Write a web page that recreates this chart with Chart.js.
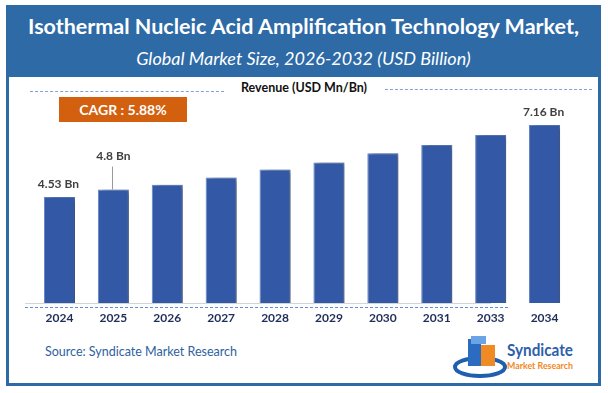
<!DOCTYPE html>
<html>
<head>
<meta charset="utf-8">
<script src="https://cdn.jsdelivr.net/npm/chart.js@4"></script>
<style>
  body { margin: 0; width: 608px; height: 393px; background: #fff; font-family: Lato, sans-serif; overflow: hidden; }
  #page { position: relative; width: 608px; height: 393px; }
  #frame { position: absolute; left: 6px; top: 5px; width: 595px; height: 381px; box-sizing: border-box; border: 3px solid #2e6aa8; background: #fff; }
  #header { position: absolute; left: 6px; top: 5px; width: 595px; height: 72px; background: #2d6aa6; color: #fff; text-align: center; }
  #title { position: absolute; left: 0; right: 0; top: 8px; font-weight: bold; font-size: 21.5px; line-height: 26px; white-space: nowrap; }
  #subtitle { position: absolute; left: 0; right: 0; top: 42px; font-style: italic; font-size: 18px; line-height: 22px; }
  #revenue { position: absolute; left: 230px; width: 148px; top: 80px; text-align: center; font-weight: bold; font-size: 12.5px; color: #111; }
  .dash { position: absolute; height: 0; border-top: 1px dashed #7fa3d8; }
  #cagr { position: absolute; left: 59px; top: 97px; width: 128px; height: 25px; background: #d3600f; color: #fff; font-weight: bold; font-size: 14px; line-height: 25px; text-align: center; }
  #source { position: absolute; left: 45px; top: 344px; font-size: 12.5px; color: #2f5f9e; }
  #chart { position: absolute; left: 0; top: 0; }
  #logo { position: absolute; left: 452px; top: 333px; }
</style>
</head>
<body>
<div id="page">
  <div id="frame"></div>
  <div id="header">
    <div id="title">Isothermal Nucleic Acid Amplification Technology Market,</div>
    <div id="subtitle">Global Market Size, 2026-2032 (USD Billion)</div>
  </div>
  <div class="dash" style="left:30px; width:194px; top:91px;"></div>
  <div id="revenue">Revenue (USD Mn/Bn)</div>
  <div class="dash" style="left:385px; width:207px; top:89px;"></div>
  <div id="cagr">CAGR : 5.88%</div>
  <div style="position:absolute; left:25px; width:466px; top:303px; height:1px; background:#d4d4d4;"></div>
  <div class="dash" style="left:25px; width:483px; top:307px; border-top-color:#5b8fd6;"></div>
  <div id="source">Source: Syndicate Market Research</div>
  <svg id="logo" width="125" height="48" viewBox="0 0 125 48">
    <ellipse cx="28" cy="34" rx="25" ry="9" fill="none" stroke="#1f5fb0" stroke-width="4"/>
    <rect x="16" y="6" width="13" height="27" fill="#2b6cc0"/>
    <rect x="19" y="3" width="15" height="8" fill="#6aa4e6"/>
    <rect x="29" y="12" width="14" height="21" fill="#f08a24"/>
    <text x="55" y="23" font-family="Lato, sans-serif" font-weight="bold" font-size="17" fill="#2e5fa8" textLength="66" lengthAdjust="spacingAndGlyphs">Syndicate</text>
    <text x="55" y="36" font-family="Lato, sans-serif" font-weight="bold" font-size="9.5" fill="#f08a24" textLength="66" lengthAdjust="spacingAndGlyphs">Market Research</text>
  </svg>
  <canvas id="chart" width="608" height="393"></canvas>
</div>
<script>
// values (USD Bn)
const years = ['2024', '2025', '2026', '2027', '2028', '2029', '2030', '2031', '2033', '2034'];
const revenue = [4.53, 4.8, 4.98, 5.24, 5.53, 5.79, 6.13, 6.43, 6.79, 7.16];
const valueLabels = ['4.53 Bn', '4.8 Bn', '', '', '', '', '', '', '', '7.16 Bn'];

// drop shadow to the right of each bar
const barShadow = {
    id: 'barShadow',
    beforeDatasetsDraw(chart) {
        const ctx = chart.ctx;
        ctx.save();
        ctx.shadowColor = 'rgba(0,0,0,0.45)';
        ctx.shadowOffsetX = 4;
        ctx.shadowOffsetY = 0;
        ctx.shadowBlur = 5;
    },
    afterDatasetsDraw(chart) {
        chart.ctx.restore();
    }
};

// "Bn" labels above the first, second and last bar
const barLabels = {
    id: 'barLabels',
    afterDatasetsDraw(chart) {
        const ctx = chart.ctx;
        const meta = chart.getDatasetMeta(0);
        ctx.save();
        ctx.font = 'bold 12px Lato, sans-serif';
        ctx.fillStyle = '#404040';
        ctx.textAlign = 'center';
        ctx.textBaseline = 'middle';
        meta.data.forEach((bar, i) => {
            const txt = valueLabels[i];
            if (!txt) return;
            if (i === 1) {
                // leader line
                ctx.strokeStyle = '#9a9a9a';
                ctx.lineWidth = 1;
                ctx.beginPath();
                ctx.moveTo(Math.round(bar.x) - 0.5, bar.y - 23);
                ctx.lineTo(Math.round(bar.x) - 0.5, bar.y);
                ctx.stroke();
                ctx.fillText(txt, bar.x, bar.y - 33);
            } else {
                ctx.fillText(txt, bar.x - 1, bar.y - 13);
            }
        });
        ctx.restore();
    }
};

new Chart(document.getElementById('chart'), {
    type: 'bar',
    data: {
        labels: years,
        datasets: [{
            data: revenue,
            backgroundColor: '#3358a5',
            borderColor: '#6283c8',
            borderWidth: 1,
            barPercentage: 0.64,
            categoryPercentage: 0.9
        }]
    },
    options: {
        responsive: false,
        animation: false,
        layout: { padding: { left: 32.5, right: 36.5, top: 100, bottom: 60 } },
        plugins: { legend: { display: false }, tooltip: { enabled: false } },
        scales: {
            x: {
                grid: { display: false, drawTicks: false },
                border: { display: false },
                ticks: { color: '#1f2d5a', font: { family: 'Lato', weight: 'bold', size: 12 }, padding: 8 },
                afterFit(scale) { scale.height = 30; }
            },
            y: { display: false, min: 0.66, max: 8.07 }
        }
    },
    plugins: [barShadow, barLabels]
});
</script>
</body>
</html>
